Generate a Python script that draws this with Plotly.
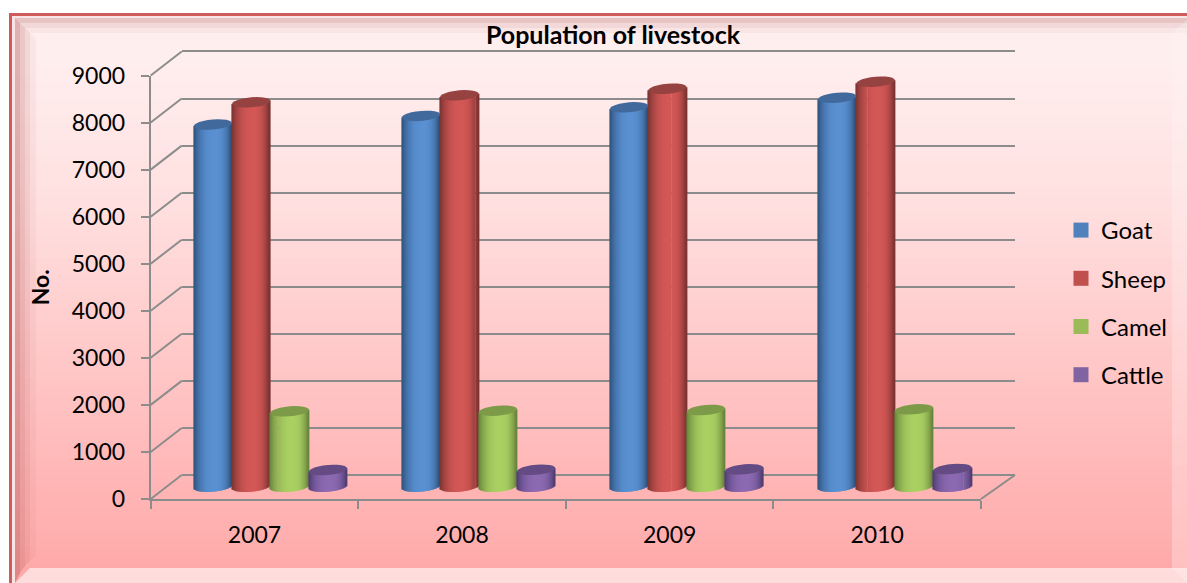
import math
import plotly.graph_objects as go

W, H = 1187, 583

years = ["2007", "2008", "2009", "2010"]
goat = [7697, 7880, 8062, 8266]
sheep = [8168, 8317, 8457, 8606]
camel = [1602, 1615, 1630, 1645]
cattle = [355, 360, 370, 376]
series_names = ["Goat", "Sheep", "Camel", "Cattle"]
series_values = [goat, sheep, camel, cattle]
legend_colors = ["#4f81bd", "#c0504d", "#9bbb59", "#8064a2"]
edge_colors = ["#2c5078", "#743130", "#64803a", "#4e3a6e"]
light_colors = ["#5a90d2", "#d25755", "#aad062", "#8c6ab2"]
top_colors = ["#41699b", "#964240", "#7c9a48", "#644b84"]
y_ticks = [0, 1000, 2000, 3000, 4000, 5000, 6000, 7000, 8000, 9000]

FONT = "Lato"
GRID = "#8c8c8c"

# pixel geometry of the pseudo-3D box
FX0, FX1, FY0, FY1 = 150.7, 981, 499, 75.5  # front axes
DX, DY = 31, 24                             # depth offset to the back wall
BACK_X1 = 1015
BARS_X0, BARS_X1 = 166.4, 998.9             # span of the four bar groups
BDY = 12.3                                  # bars stand half way in
PX_PER_UNIT = (FY0 - FY1) / 9000
BAR_W = 38.4 / ((BARS_X1 - BARS_X0) / 4)
EH, TILT = 5.0, 1.6                         # ellipse half height / tilt in px
N = 38
PAD = 200                                   # head room so the rounded ends and end gridlines draw


def px(x):
    return x / W


def py(y):
    return 1 - y / H


def mix(a, b, t):
    ca = [int(a[i:i + 2], 16) for i in (1, 3, 5)]
    cb = [int(b[i:i + 2], 16) for i in (1, 3, 5)]
    return "rgb(%d,%d,%d)" % tuple(round(p + (q - p) * t) for p, q in zip(ca, cb))


def shade(edge, light, t):
    # t in -1..1 : dark rim, highlight slightly right of the centre
    d = abs(t - 0.15) / (1.15 if t < 0.15 else 0.85)
    return mix(light, edge, min(1.0, d ** 2.6))


def elev(t):
    return -EH * math.sqrt(max(0, 1 - t * t)) + TILT * t


fig = go.Figure()

# invisible carriers for the back wall and the front axes
fig.add_trace(go.Scatter(x=[-0.5, 3.5], y=[0, 9000], xaxis="x", yaxis="y", mode="lines",
                         line=dict(width=0), showlegend=False, hoverinfo="skip"))
fig.add_trace(go.Scatter(x=years, y=goat, xaxis="x2", yaxis="y2", mode="lines",
                         line=dict(width=0), showlegend=False, hoverinfo="skip"))

shapes = []

# cylinders, one thin bar per shading strip
for s, (name, vals) in enumerate(zip(series_names, series_values)):
    xs, ys, bases, widths, cols = [], [], [], [], []
    for c, v in enumerate(vals):
        center = c + (s - 1.5) * BAR_W
        for k in range(N):
            t = -1 + (2 * k + 1) / N
            xs.append(center + t * BAR_W / 2)
            low = elev(t) / PX_PER_UNIT
            bases.append(low)
            ys.append(v + TILT * t / PX_PER_UNIT - low)
            widths.append(BAR_W / N * 1.3)
            cols.append(shade(edge_colors[s], light_colors[s], t))
        pts = []
        for a in range(0, 360, 15):
            r = math.radians(a)
            ex = center + math.cos(r) * BAR_W / 2
            ey = v + (EH * math.sin(r) + TILT * math.cos(r)) / PX_PER_UNIT
            pts.append(f"{ex:.4f},{ey:.1f}")
        shapes.append(dict(type="path", xref="x3", yref="y3", layer="above",
                           path="M" + " L".join(pts) + " Z",
                           fillcolor=top_colors[s], line=dict(width=0)))
    fig.add_trace(go.Bar(x=xs, y=ys, base=bases, width=widths, xaxis="x3", yaxis="y3", opacity=1,
                         marker=dict(color=cols, opacity=1, line=dict(width=0)),
                         showlegend=False, hoverinfo="skip"))

# legend entries
for name, col in zip(series_names, legend_colors):
    fig.add_trace(go.Scatter(x=[None], y=[None], xaxis="x3", yaxis="y3", name=name, mode="markers",
                             legendgroup=name,
                             marker=dict(symbol="square", size=15, color=col)))

bg = []
# page frame and vertical background gradient
stops = [(15, "#ffeeee"), (60, "#ffeeee"), (200, "#ffe0e0"), (330, "#ffcccc"), (480, "#ffb6b6"), (583, "#ffa8a8")]


def bgcol(y):
    for (y0, c0), (y1, c1) in zip(stops, stops[1:]):
        if y <= y1:
            return mix(c0, c1, (y - y0) / (y1 - y0))
    return stops[-1][1]


bg.append(dict(type="rect", xref="paper", yref="paper", x0=px(9), x1=1, y0=0, y1=py(13), layer="below",
               fillcolor="#cf5b5b", line=dict(width=0)))
bg.append(dict(type="rect", xref="paper", yref="paper", x0=px(12), x1=1, y0=0, y1=py(16), layer="below",
               fillcolor="#f8e4e4", line=dict(width=0)))
for y in range(18, 583, 8):
    bg.append(dict(type="rect", xref="paper", yref="paper", x0=px(15), x1=1, y0=py(y + 9), y1=py(y),
                   layer="below", fillcolor=bgcol(y + 4), line=dict(width=0)))


def poly(points, color):
    p = "M" + " L".join(f"{px(a):.5f},{py(b):.5f}" for a, b in points) + " Z"
    return dict(type="path", xref="paper", yref="paper", path=p, layer="below",
                fillcolor=color, line=dict(width=0))


# bevel of the picture frame
bg.append(poly([(15, 18), (1187, 18), (1187, 23), (20, 23)], "rgba(190,130,130,0.38)"))
bg.append(poly([(20, 23), (1187, 23), (1187, 28), (25, 28)], "rgba(190,130,130,0.20)"))
bg.append(poly([(25, 28), (1187, 28), (1187, 33), (30, 33)], "rgba(190,130,130,0.08)"))
bg.append(poly([(15, 18), (20, 23), (20, 573), (15, 583)], "rgba(170,80,80,0.38)"))
bg.append(poly([(20, 23), (25, 28), (25, 566), (20, 573)], "rgba(170,80,80,0.24)"))
bg.append(poly([(25, 28), (30, 33), (30, 561), (25, 566)], "rgba(170,80,80,0.14)"))
bg.append(poly([(30, 33), (36, 39), (36, 556), (30, 561)], "rgba(170,80,80,0.06)"))
bg.append(poly([(15, 583), (30, 568), (1187, 568), (1187, 583)], "rgba(255,245,245,0.68)"))
bg.append(poly([(1172, 33), (1187, 20), (1187, 583), (1172, 568)], "rgba(255,245,245,0.30)"))

# side wall diagonals, floor edge
for v in y_ticks:
    yy = FY0 - v * PX_PER_UNIT
    bg.append(dict(type="line", xref="paper", yref="paper", x0=px(FX0), x1=px(FX0 + DX),
                   y0=py(yy), y1=py(yy - DY), layer="below", line=dict(color=GRID, width=2)))
bg.append(dict(type="line", xref="paper", yref="paper", x0=px(FX1), x1=px(BACK_X1),
               y0=py(FY0), y1=py(FY0 - DY), layer="below", line=dict(color=GRID, width=2)))

PADPX = PAD * PX_PER_UNIT

fig.update_layout(
    width=W, height=H, autosize=False,
    margin=dict(l=0, r=0, t=0, b=0, autoexpand=False),
    paper_bgcolor="#ffffff", plot_bgcolor="rgba(0,0,0,0)",
    barmode="overlay", font=dict(family=FONT, color="#000000", size=23),
    title=dict(text="<b>Population of livestock</b>", x=613 / W, xanchor="center",
               y=py(35), yanchor="middle", font=dict(family=FONT, size=25, color="#000000")),
    shapes=bg + shapes,
    # back wall
    xaxis=dict(domain=[px(FX0 + DX), px(BACK_X1)], range=[-0.5, 3.5], visible=False),
    yaxis=dict(domain=[py(FY0 - DY + PADPX), py(FY1 - DY - PADPX)], range=[-PAD, 9000 + PAD], tickvals=y_ticks,
               showgrid=True, gridcolor=GRID, gridwidth=2, zeroline=False,
               showline=False, ticks="", showticklabels=False),
    # front axes
    xaxis2=dict(domain=[px(FX0), px(FX1)], anchor="y2", type="category", categoryorder="array",
                categoryarray=years, range=[-0.5, 3.5], tickson="boundaries", ticks="outside", ticklen=8,
                tickwidth=2, tickcolor=GRID, showline=True, linecolor=GRID, linewidth=2, showgrid=False,
                tickfont=dict(size=23), ticklabelstandoff=14),
    yaxis2=dict(domain=[py(FY0), py(FY1)], anchor="x2", range=[0, 9000], tickvals=y_ticks,
                ticks="outside", ticklen=8, tickwidth=2, tickcolor=GRID, showline=True,
                linecolor=GRID, linewidth=2, showgrid=False, zeroline=False,
                tickfont=dict(size=23), ticklabelstandoff=11,
                title=dict(text="<b>No.</b>", font=dict(size=23), standoff=16)),
    # bars stand half way between the front and the back
    xaxis3=dict(domain=[px(BARS_X0), px(BARS_X1)], anchor="y3", range=[-0.5, 3.5], visible=False),
    yaxis3=dict(domain=[py(FY0 - BDY + PADPX), py(FY1 - BDY - PADPX)], anchor="x3",
                range=[-PAD, 9000 + PAD], visible=False),
    legend=dict(x=1061 / W, xanchor="left", y=py(208), yanchor="top", tracegroupgap=14,
                bgcolor="rgba(0,0,0,0)", font=dict(size=24), itemwidth=30),
)

fig.write_html("out.html", config={"displayModeBar": False},
               post_script="document.body.style.margin='0';document.body.style.overflow='hidden';")
